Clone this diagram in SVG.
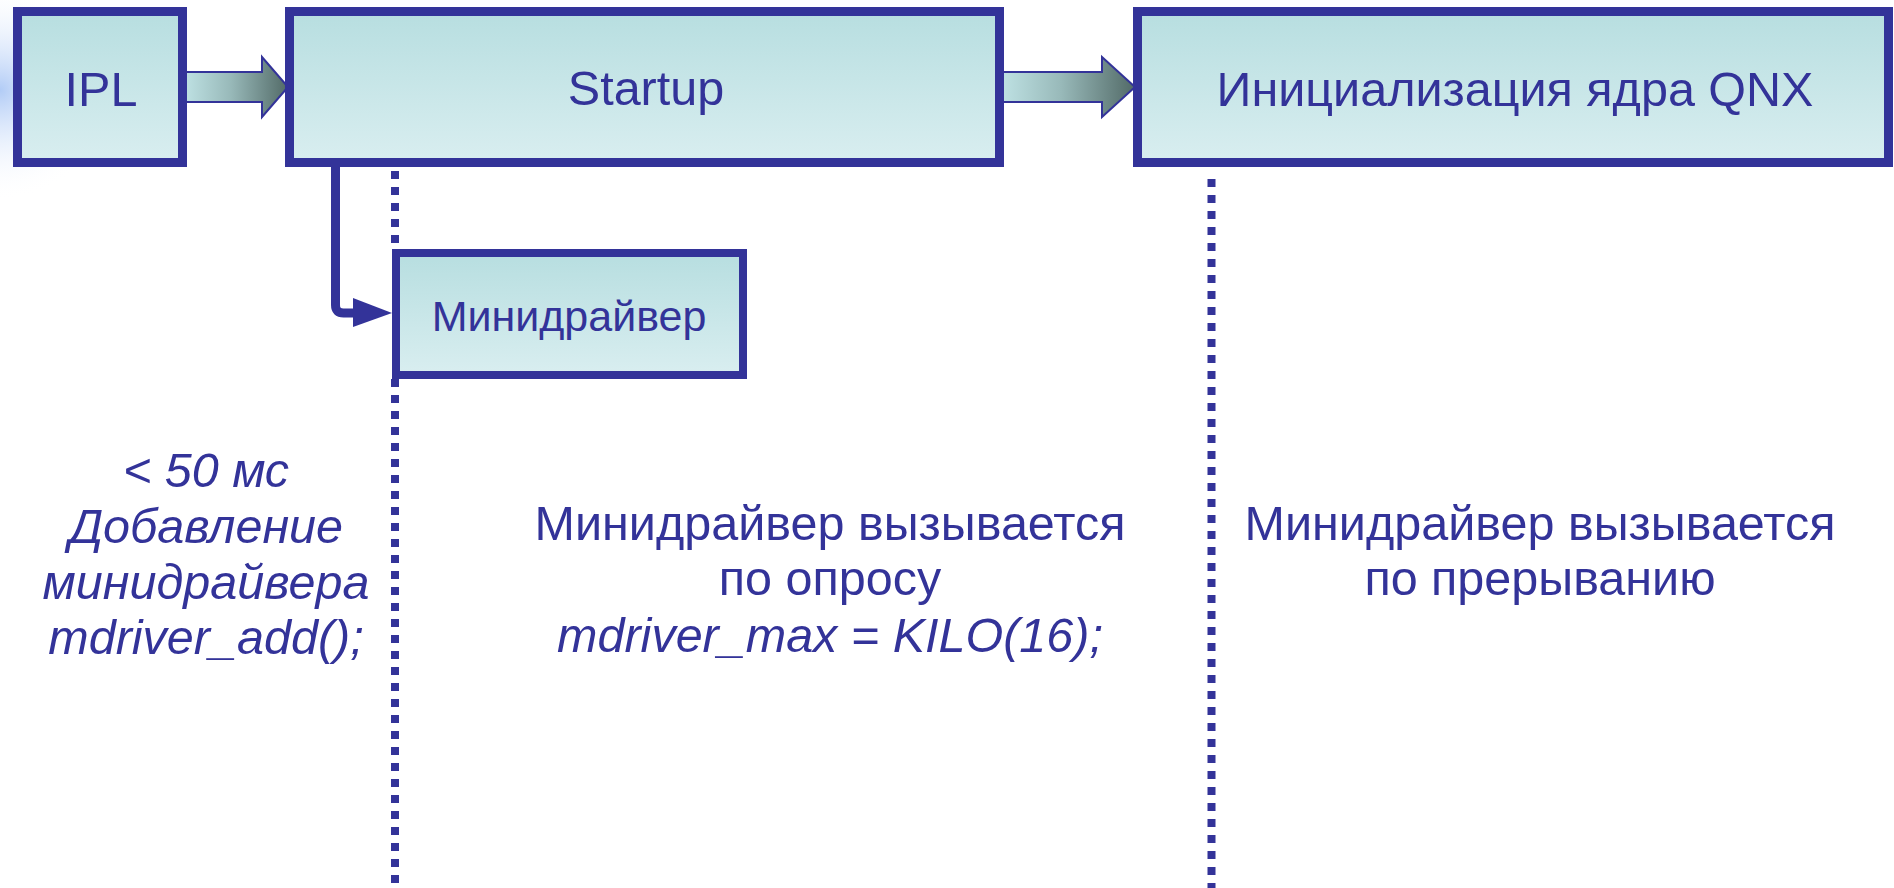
<svg xmlns="http://www.w3.org/2000/svg" width="1894" height="888" viewBox="0 0 1894 888">
<defs>
<linearGradient id="boxFill" x1="0" y1="0" x2="0" y2="1">
<stop offset="0" stop-color="#b7dee0"/>
<stop offset="1" stop-color="#d9eef0"/>
</linearGradient>
<linearGradient id="arrowFill" x1="0" y1="0" x2="1" y2="0">
<stop offset="0" stop-color="#bfe2e4"/>
<stop offset="0.45" stop-color="#98b9b9"/>
<stop offset="1" stop-color="#526a67"/>
</linearGradient>
<radialGradient id="glow" cx="0" cy="90" r="110" gradientUnits="userSpaceOnUse">
<stop offset="0" stop-color="#a9c6f5" stop-opacity="0.9"/>
<stop offset="1" stop-color="#ffffff" stop-opacity="0"/>
</radialGradient>
</defs>
<style>
.box{fill:url(#boxFill);stroke:#333399;stroke-width:9}
.big{font-family:"Liberation Sans",Arial,sans-serif;font-size:48.5px;fill:#333399;text-anchor:middle}
.it{font-style:italic}
.dots{stroke:#333399;stroke-width:8;stroke-dasharray:8 8;fill:none}
.fat{fill:url(#arrowFill);stroke:#333399;stroke-width:2}
</style>
<rect x="0" y="0" width="1894" height="888" fill="#ffffff"/>
<rect x="0" y="0" width="130" height="260" fill="url(#glow)"/>

<g id="connectors">
<line class="dots" x1="395" y1="171" x2="395" y2="249"/>
<line class="dots" x1="395" y1="379" x2="395" y2="888"/>
<line class="dots" x1="1211.5" y1="179" x2="1211.5" y2="888"/>
<polygon class="fat" points="184,72 262,72 262,57 288,87 262,117 262,102 184,102"/>
<polygon class="fat" points="1001,72 1102,72 1102,57 1135,87 1102,117 1102,102 1001,102"/>
<path d="M335.5,167 V305 Q335.5,313 343.5,313 H354" fill="none" stroke="#333399" stroke-width="9"/>
<polygon points="353,298 392,313 353,327" fill="#333399"/>
</g>

<g id="ipl">
<rect class="box" x="17.5" y="11.5" width="165" height="151"/>
<text class="big" x="101" y="106">IPL</text>
</g>
<g id="startup">
<rect class="box" x="289.5" y="11.5" width="710" height="151"/>
<text class="big" x="646" y="105">Startup</text>
</g>
<g id="kernel">
<rect class="box" x="1137.5" y="11.5" width="751" height="151"/>
<text class="big" x="1515" y="106">Инициализация ядра QNX</text>
</g>
<g id="minidriver">
<rect x="396" y="253" width="347" height="122" fill="url(#boxFill)" stroke="#333399" stroke-width="8"/>
<text class="big" x="569" y="331" style="font-size:43px">Минидрайвер</text>
</g>

<g id="label-ipl">
<text class="big it" x="206" y="487">&lt; 50 мс</text>
<text class="big it" x="206" y="543">Добавление</text>
<text class="big it" x="206" y="599">минидрайвера</text>
<text class="big it" x="206" y="654">mdriver_add();</text>
</g>
<g id="label-startup">
<text class="big" x="830" y="540">Минидрайвер вызывается</text>
<text class="big" x="830" y="595">по опросу</text>
<text class="big it" x="830" y="652">mdriver_max = KILO(16);</text>
</g>
<g id="label-kernel">
<text class="big" x="1540" y="540">Минидрайвер вызывается</text>
<text class="big" x="1540" y="595">по прерыванию</text>
</g>
</svg>
